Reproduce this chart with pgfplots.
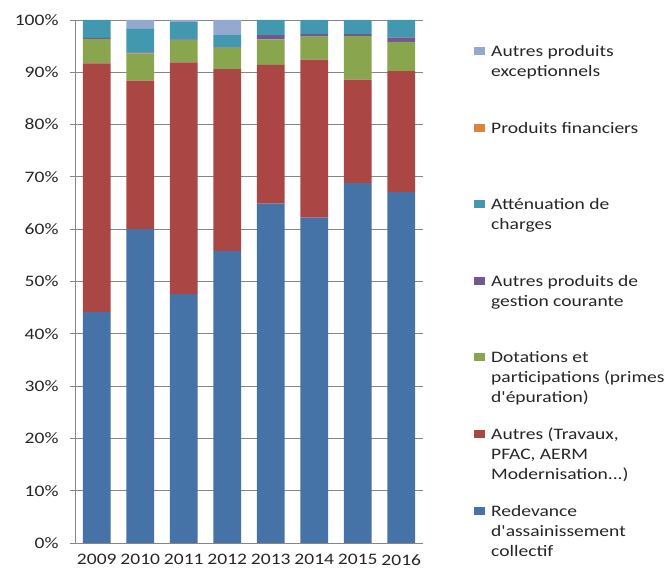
\documentclass[border=0pt]{standalone}
\usepackage{fontspec}
\setmainfont{Carlito}[FakeStretch=1.22, Ligatures=TeXOff]
\usepackage{pgfplots}
\pgfplotsset{compat=1.18}
\definecolor{cBlue}{HTML}{4572A7}
\definecolor{cRed}{HTML}{AA4643}
\definecolor{cGreen}{HTML}{89A54E}
\definecolor{cPurple}{HTML}{71588F}
\definecolor{cTeal}{HTML}{4198AF}
\definecolor{cOrange}{HTML}{DB843D}
\definecolor{cLight}{HTML}{93A9CF}
\definecolor{axisgray}{HTML}{868686}
\newcommand{\lentry}[1]{\parbox[t]{178bp}{\raggedright #1}}
\pgfplotsset{mylegend/.style={legend image code/.code={\fill[##1,draw=none] (0bp,1.5bp) rectangle (11bp,9.5bp);}}}
\begin{document}
\begin{tikzpicture}
\useasboundingbox (-75bp,-27bp) rectangle (593bp,543bp);
\begin{axis}[
  at={(0,0)}, anchor=south west, scale only axis,
  width=348bp, height=523bp,
  ybar stacked, bar width=0.64,
  xmin=-0.5, xmax=7.5, ymin=0, ymax=100,
  xtick={0,1,2,3,4,5,6,7},
  xticklabels={2009,2010,2011,2012,2013,2014,2015,2016},
  ytick={0,10,20,30,40,50,60,70,80,90,100},
  yticklabels={0\%,10\%,20\%,30\%,40\%,50\%,60\%,70\%,80\%,90\%,100\%},
  axis lines=left, axis line style={-, draw=axisgray, line width=0.8bp},
  ymajorgrids, grid style={draw=axisgray, line width=0.8bp},
  xtick style={draw=none}, ytick style={draw=axisgray, line width=0.8bp},
  tick align=outside, major tick length=5bp,
  ticklabel style={font=\fontsize{16bp}{19bp}\selectfont, text=black!85},
  yticklabel style={xshift=-8bp},
  xticklabel style={yshift=-3bp},
  reverse legend,
  legend style={at={(rel axis cs:1,1)}, anchor=north west, xshift=51bp, yshift=-25.5bp,
    draw=none, fill=none, inner sep=0pt, row sep=0pt, column sep=6bp,
    cells={anchor=base west}, nodes={inner sep=0pt, text depth=65.4bp},
    font=\fontsize{16bp}{20bp}\selectfont, text=black!85},
]
\addplot[fill=cBlue, draw=none, mylegend] coordinates {(0,44.2) (1,60.0) (2,47.6) (3,55.8) (4,64.9) (5,62.2) (6,68.8) (7,67.1)};
\addlegendentry{\lentry{Redevance\\d'assainissement\\collectif}}
\addplot[fill=cRed, draw=none, mylegend] coordinates {(0,47.5) (1,28.4) (2,44.3) (3,34.8) (4,26.5) (5,30.2) (6,19.8) (7,23.1)};
\addlegendentry{\lentry{Autres (Travaux,\\PFAC, AERM\\Modernisation...)}}
\addplot[fill=cGreen, draw=none, mylegend] coordinates {(0,4.7) (1,5.2) (2,4.3) (3,4.1) (4,4.9) (5,4.4) (6,8.3) (7,5.6)};
\addlegendentry{\lentry{Dotations et\\participations (primes\\d'épuration)}}
\addplot[fill=cPurple, draw=none, mylegend] coordinates {(0,0.2) (1,0.2) (2,0.1) (3,0.1) (4,0.8) (5,0.5) (6,0.4) (7,0.9)};
\addlegendentry{\lentry{Autres produits de\\gestion courante}}
\addplot[fill=cTeal, draw=none, mylegend] coordinates {(0,3.4) (1,4.6) (2,3.3) (3,2.3) (4,2.9) (5,2.7) (6,2.7) (7,3.3)};
\addlegendentry{\lentry{Atténuation de\\charges}}
\addplot[fill=cOrange, draw=none, mylegend] coordinates {(0,0) (1,0) (2,0) (3,0) (4,0) (5,0) (6,0) (7,0)};
\addlegendentry{\lentry{Produits financiers}}
\addplot[fill=cLight, draw=none, mylegend] coordinates {(0,0) (1,1.6) (2,0.4) (3,2.9) (4,0) (5,0) (6,0) (7,0)};
\addlegendentry{\lentry{Autres produits\\exceptionnels}}
\end{axis}
\end{tikzpicture}
\end{document}
